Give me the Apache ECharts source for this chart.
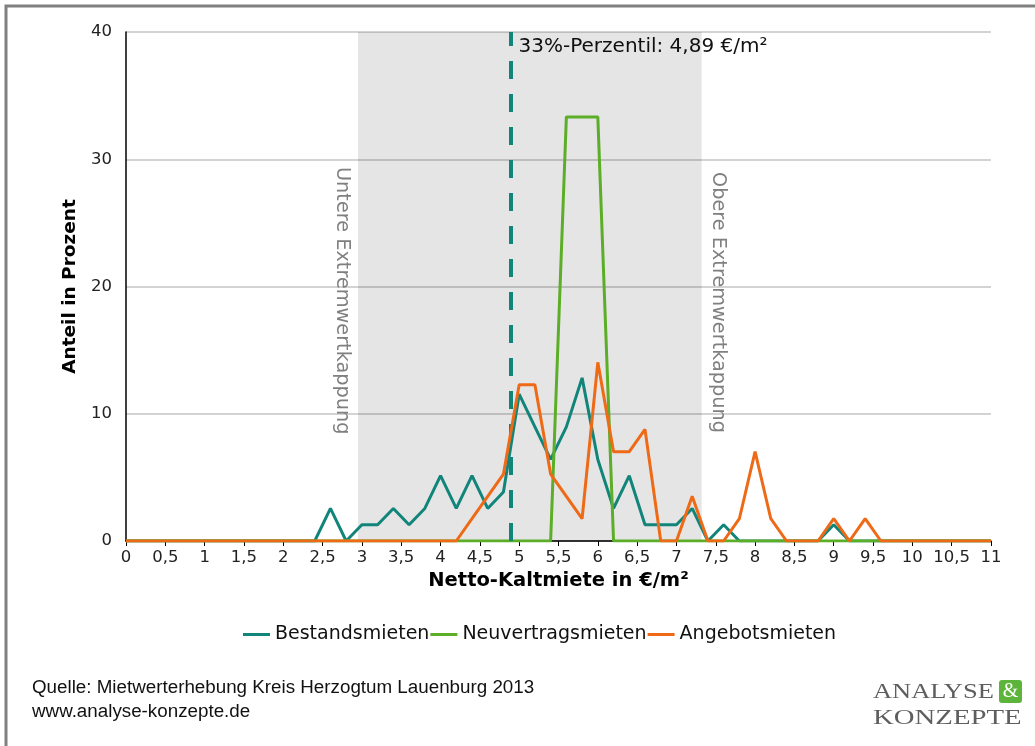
<!DOCTYPE html>
<html>
<head>
    <meta charset="utf-8">
    <title>Mietwerterhebung Lauenburg</title>
    <script src="https://cdn.jsdelivr.net/npm/echarts@6/dist/echarts.min.js"></script>
    <style>
        *{ margin: 0; padding: 0; }
        html,body{ width: 100%; height: 100%; overflow: hidden; background: #fff; }
        #main{ width: 1035px; height: 746px; }
    </style>
</head>
<body>
<div id="main"></div>
<script>
    // Mietpreis-Klassen (€/m²)
    const rents = [0, 0.2, 0.4, 0.6, 0.8, 1, 1.2, 1.4, 1.6, 1.8, 2, 2.2, 2.4, 2.6, 2.8,
        3, 3.2, 3.4, 3.6, 3.8, 4, 4.2, 4.4, 4.6, 4.8, 5, 5.2, 5.4, 5.6, 5.8,
        6, 6.2, 6.4, 6.6, 6.8, 7, 7.2, 7.4, 7.6, 7.8, 8, 8.2, 8.4, 8.6, 8.8,
        9, 9.2, 9.4, 9.6, 9.8, 10, 10.2, 10.4, 10.6, 10.8, 11];
    const bestand = [0, 0, 0, 0, 0, 0, 0, 0, 0, 0, 0, 0, 0, 2.56, 0,
        1.28, 1.28, 2.56, 1.28, 2.56, 5.13, 2.56, 5.13, 2.56, 3.85, 11.54, 8.97, 6.41, 8.97, 12.82,
        6.41, 2.56, 5.13, 1.28, 1.28, 1.28, 2.56, 0, 1.28, 0, 0, 0, 0, 0, 0,
        1.28, 0, 0, 0, 0, 0, 0, 0, 0, 0, 0];
    const neuvertrag = [0, 0, 0, 0, 0, 0, 0, 0, 0, 0, 0, 0, 0, 0, 0,
        0, 0, 0, 0, 0, 0, 0, 0, 0, 0, 0, 0, 0, 33.33, 33.33,
        33.33, 0, 0, 0, 0, 0, 0, 0, 0, 0, 0, 0, 0, 0, 0,
        0, 0, 0, 0, 0, 0, 0, 0, 0, 0, 0];
    const angebot = [0, 0, 0, 0, 0, 0, 0, 0, 0, 0, 0, 0, 0, 0, 0,
        0, 0, 0, 0, 0, 0, 0, 1.75, 3.51, 5.26, 12.28, 12.28, 5.26, 3.51, 1.75,
        14.04, 7.02, 7.02, 8.77, 0, 0, 3.51, 0, 0, 1.75, 7.02, 1.75, 0, 0, 0,
        1.75, 0, 1.75, 0, 0, 0, 0, 0, 0, 0, 0];
    const seriesNames = ['Bestandsmieten', 'Neuvertragsmieten', 'Angebotsmieten'];
    const colors = ['#12857a', '#5cad28', '#ee6a17'];
    const lowerCap = 2.95;
    const upperCap = 7.32;
    const percentile33 = 4.89;

    const font = 'DejaVu Sans';
    let myCharts = echarts.init(document.getElementById('main'));

    let series = [bestand, neuvertrag, angebot].map((vals, i) => ({
        name: seriesNames[i],
        type: 'line',
        data: rents.map((r, k) => [r, vals[k]]),
        symbol: 'none',
        lineStyle: { width: 3, color: colors[i] },
        itemStyle: { color: colors[i] },
        z: 3 + i
    }));
    // Kappungsbereich
    series[0].markArea = {
        silent: true,
        itemStyle: { color: 'rgba(0,0,0,0.1)' },
        data: [[{ xAxis: lowerCap }, { xAxis: upperCap }]]
    };
    // 33%-Perzentil
    series[0].markLine = {
        silent: true,
        symbol: 'none',
        label: { show: false },
        lineStyle: { color: colors[0], width: 4, type: [18, 15] },
        data: [{ xAxis: percentile33 }]
    };

    let option = {
        backgroundColor: '#fff',
        animation: false,
        grid: { left: 126, right: 44, top: 32, bottom: 205 },
        xAxis: {
            type: 'value', min: 0, max: 11, interval: 0.5,
            name: 'Netto-Kaltmiete in €/m²',
            nameLocation: 'middle', nameGap: 30,
            nameTextStyle: { fontFamily: font, fontSize: 19.5, fontWeight: 'bold', color: '#000' },
            axisLine: { lineStyle: { color: '#000', width: 1.5 } },
            axisTick: { length: 5, lineStyle: { color: '#000' } },
            axisLabel: {
                fontFamily: font, fontSize: 16.5, color: '#222', margin: 8,
                formatter: v => String(v).replace('.', ',')
            },
            splitLine: { show: false }
        },
        yAxis: {
            type: 'value', min: 0, max: 40, interval: 10,
            name: 'Anteil in Prozent',
            nameLocation: 'middle', nameGap: 43,
            nameTextStyle: { fontFamily: font, fontSize: 18.5, fontWeight: 'bold', color: '#000' },
            axisLine: { show: true, lineStyle: { color: '#000', width: 1.5 } },
            axisTick: { show: false },
            axisLabel: { fontFamily: font, fontSize: 16.5, color: '#222', margin: 14 },
            splitLine: { lineStyle: { color: '#c4c4c4', width: 1.5 } }
        },
        legend: {
            data: seriesNames,
            left: 238, top: 620,
            icon: 'rect', itemWidth: 27, itemHeight: 3, itemGap: 1,
            textStyle: { fontFamily: font, fontSize: 19, color: '#111' }
        },
        series
    };
    myCharts.setOption(option);

    const px = (x, y) => myCharts.convertToPixel({ gridIndex: 0 }, [x, y]);
    const pLow = px(lowerCap, 40);
    const pHigh = px(upperCap, 40);
    const pPerc = px(percentile33, 40);

    myCharts.setOption({
        graphic: [
            { type: 'rect', shape: { x: 6, y: 6, width: 1100, height: 800 },
              style: { fill: 'none', stroke: '#808080', lineWidth: 3 }, silent: true },
            { type: 'text', x: pPerc[0] + 8, y: pPerc[1] + 15,
              style: { text: '33%-Perzentil: 4,89 €/m²', font: '20px "DejaVu Sans"', fill: '#111',
                       align: 'left', verticalAlign: 'middle' } },
            { type: 'text', x: pLow[0] - 16, y: pLow[1] + 135, rotation: -Math.PI / 2,
              style: { text: 'Untere Extremwertkappung', font: '19.3px "DejaVu Sans"', fill: '#808080',
                       align: 'left', verticalAlign: 'middle' } },
            { type: 'text', x: pHigh[0] + 16, y: pHigh[1] + 140, rotation: -Math.PI / 2,
              style: { text: 'Obere Extremwertkappung', font: '19.3px "DejaVu Sans"', fill: '#808080',
                       align: 'left', verticalAlign: 'middle' } },
            { type: 'text', x: 32, y: 688,
              style: { text: 'Quelle: Mietwerterhebung Kreis Herzogtum Lauenburg 2013', font: '18.8px "Liberation Sans"',
                       fill: '#111', verticalAlign: 'middle' } },
            { type: 'text', x: 32, y: 712,
              style: { text: 'www.analyse-konzepte.de', font: '18.8px "Liberation Sans"',
                       fill: '#111', verticalAlign: 'middle' } },
            { type: 'text', x: 873, y: 692, scaleX: 1.26,
              style: { text: 'ANALYSE', font: '21px "Liberation Serif"', fill: '#5e5e5e', verticalAlign: 'middle' } },
            { type: 'rect', shape: { x: 999, y: 680, width: 23, height: 23, r: 3 },
              style: { fill: '#5cb43a' } },
            { type: 'text', x: 1010.5, y: 692,
              style: { text: '&', font: '20px "Liberation Serif"', fill: '#fff', align: 'center', verticalAlign: 'middle' } },
            { type: 'text', x: 873, y: 718, scaleX: 1.37,
              style: { text: 'KONZEPTE', font: '21px "Liberation Serif"', fill: '#5e5e5e', verticalAlign: 'middle' } }
        ]
    });
</script>
</body>
</html>
